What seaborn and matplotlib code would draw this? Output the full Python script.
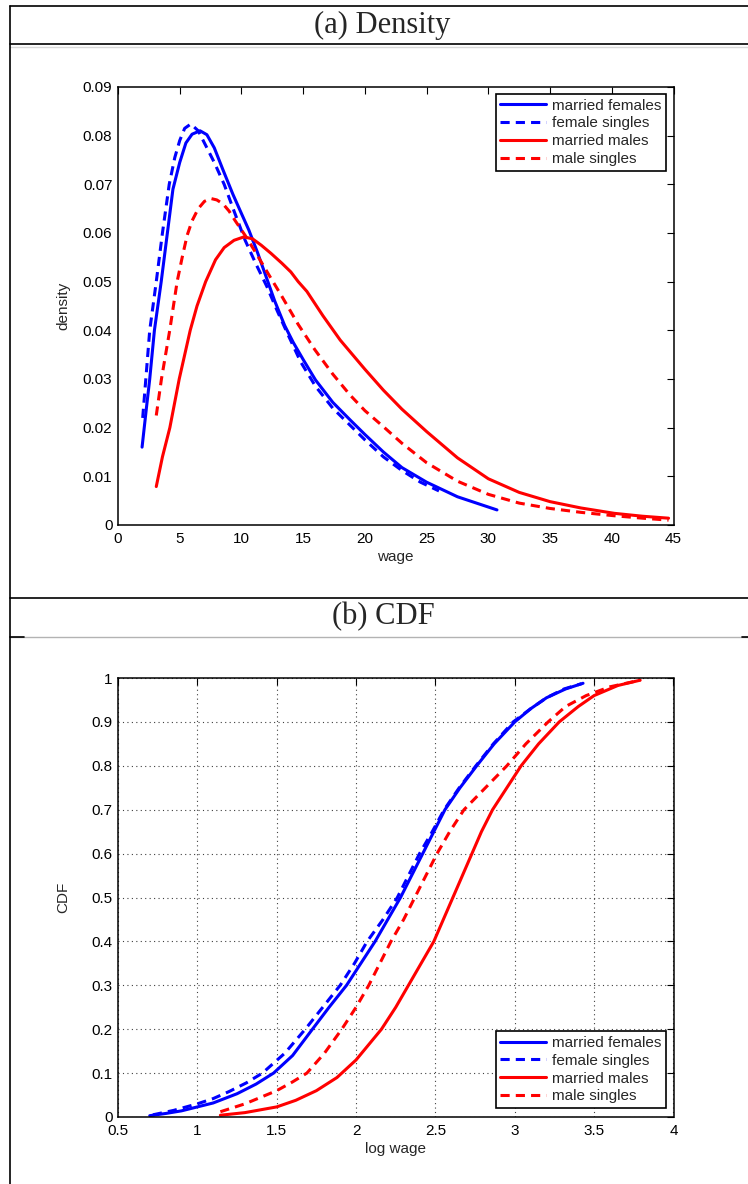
import pandas as pd
import seaborn as sns
from matplotlib import pyplot as plt
from matplotlib.lines import Line2D

sns.set_style('white')
plt.rcParams['font.family'] = ['Liberation Sans', 'DejaVu Sans']

groups = ['married females', 'female singles', 'married males', 'male singles']
colors = {'married females': '#0000ff', 'female singles': '#0000ff',
          'married males': '#ff0000', 'male singles': '#ff0000'}
dash_spec = {'married females': '', 'female singles': (3, 2),
             'married males': '', 'male singles': (3, 2)}

# (a) density of wages
mf_wage = [1.95, 2.3, 2.57, 2.95, 3.5, 4.0, 4.45, 5.0, 5.5, 6.0, 6.65, 7.2, 7.8, 8.5, 9.3,
           10.0, 10.6, 11.3, 12.0, 12.7, 13.5, 14.2, 15.0, 16.0, 17.4, 18.8, 20.0, 21.5,
           23.0, 25.0, 27.5, 30.7]
mf_dens = [0.016, 0.024, 0.030, 0.040, 0.050, 0.060, 0.069, 0.0745, 0.0785, 0.0803, 0.081,
           0.0802, 0.0775, 0.073, 0.068, 0.064, 0.0606, 0.056, 0.051, 0.046, 0.041, 0.0375,
           0.034, 0.0298, 0.0252, 0.0216, 0.0186, 0.015, 0.0118, 0.0088, 0.0058, 0.0031]
fs_wage = [2.0, 2.57, 3.1, 3.6, 4.15, 4.6, 5.0, 5.4, 5.9, 6.5, 7.1, 7.8, 8.6, 9.4, 10.3,
           11.2, 12.06, 12.9, 13.7, 14.8, 16.0, 17.4, 18.8, 20.0, 21.5, 23.0, 24.5, 26.0]
fs_dens = [0.022, 0.040, 0.050, 0.060, 0.070, 0.0755, 0.079, 0.0815, 0.0824, 0.081, 0.078,
           0.0745, 0.070, 0.0645, 0.0585, 0.0535, 0.049, 0.044, 0.0395, 0.0335, 0.0285,
           0.024, 0.0205, 0.0175, 0.014, 0.0112, 0.0088, 0.007]
mm_wage = [3.1, 3.6, 4.2, 4.96, 5.85, 6.4, 7.1, 7.9, 8.6, 9.4, 10.2, 10.9, 11.6, 12.4,
           13.27, 14.0, 14.6, 15.3, 15.95, 16.6, 17.3, 18.0, 18.8, 20.0, 21.5, 23.0, 25.0,
           27.5, 30.0, 32.5, 35.0, 37.5, 40.2, 42.5, 44.6]
mm_dens = [0.0079, 0.014, 0.020, 0.030, 0.040, 0.045, 0.050, 0.0545, 0.057, 0.0585, 0.0592,
           0.0588, 0.0575, 0.0558, 0.0538, 0.052, 0.050, 0.048, 0.0455, 0.043, 0.0405,
           0.038, 0.0356, 0.032, 0.0277, 0.0238, 0.0192, 0.0138, 0.0095, 0.0067, 0.0048,
           0.0035, 0.0024, 0.0018, 0.0014]
ms_wage = [3.1, 3.52, 4.19, 4.79, 5.2, 5.6, 6.0, 6.5, 7.0, 7.5, 8.0, 8.5, 9.0, 9.5, 10.3,
           11.1, 12.2, 13.27, 14.6, 15.95, 17.4, 18.8, 20.0, 21.5, 23.0, 25.0, 27.5, 30.0,
           32.5, 35.0, 37.5, 40.2, 42.5, 44.6]
ms_dens = [0.0225, 0.030, 0.040, 0.050, 0.055, 0.0595, 0.0625, 0.065, 0.0665, 0.0671,
           0.0668, 0.066, 0.0645, 0.0625, 0.0595, 0.0562, 0.0515, 0.047, 0.0412, 0.036,
           0.031, 0.0267, 0.0235, 0.0202, 0.0168, 0.0128, 0.009, 0.0063, 0.0045, 0.0034,
           0.0026, 0.0019, 0.0014, 0.001]

# (b) CDF of log wages
mf_logw = [0.70, 0.8, 0.9, 1.0, 1.1, 1.25, 1.37, 1.48, 1.6, 1.725, 1.83, 1.94, 2.03, 2.12,
           2.2, 2.28, 2.35, 2.42, 2.49, 2.56, 2.655, 2.76, 2.87, 3.0, 3.1, 3.2, 3.32, 3.43]
mf_cdf = [0.003, 0.008, 0.014, 0.023, 0.032, 0.053, 0.075, 0.10, 0.14, 0.20, 0.25, 0.30,
          0.35, 0.40, 0.45, 0.50, 0.55, 0.60, 0.65, 0.70, 0.75, 0.80, 0.85, 0.90, 0.93,
          0.955, 0.975, 0.988]
fs_logw = [0.72, 0.85, 1.0, 1.1, 1.2, 1.31, 1.41, 1.55, 1.68, 1.79, 1.90, 1.99, 2.07, 2.17,
           2.26, 2.33, 2.40, 2.48, 2.555, 2.65, 2.755, 2.865, 2.99, 3.1, 3.2, 3.31, 3.42]
fs_cdf = [0.005, 0.015, 0.03, 0.042, 0.058, 0.078, 0.10, 0.145, 0.20, 0.25, 0.30, 0.35,
          0.40, 0.45, 0.50, 0.55, 0.60, 0.65, 0.70, 0.75, 0.80, 0.85, 0.90, 0.93, 0.955,
          0.975, 0.987]
mm_logw = [1.145, 1.3, 1.5, 1.62, 1.75, 1.88, 2.0, 2.08, 2.16, 2.25, 2.33, 2.41, 2.49, 2.55,
           2.61, 2.67, 2.73, 2.79, 2.86, 2.95, 3.04, 3.15, 3.28, 3.4, 3.5, 3.65, 3.79]
mm_cdf = [0.004, 0.01, 0.023, 0.038, 0.06, 0.09, 0.13, 0.165, 0.20, 0.25, 0.30, 0.35, 0.40,
          0.45, 0.50, 0.55, 0.60, 0.65, 0.70, 0.75, 0.80, 0.85, 0.90, 0.935, 0.96, 0.983,
          0.995]
ms_logw = [1.145, 1.3, 1.5, 1.6, 1.69, 1.8, 1.91, 2.0, 2.08, 2.15, 2.22, 2.30, 2.37, 2.44,
           2.51, 2.59, 2.68, 2.815, 2.95, 3.07, 3.21, 3.32, 3.45, 3.6, 3.79]
ms_cdf = [0.012, 0.03, 0.06, 0.08, 0.10, 0.145, 0.20, 0.25, 0.30, 0.35, 0.40, 0.45, 0.50,
          0.55, 0.60, 0.65, 0.70, 0.75, 0.80, 0.85, 0.90, 0.935, 0.96, 0.98, 0.995]

dens_xticks = [0, 5, 10, 15, 20, 25, 30, 35, 40, 45]
dens_yticks = [0, 0.01, 0.02, 0.03, 0.04, 0.05, 0.06, 0.07, 0.08, 0.09]
dens_ylabels = ['0', '0.01', '0.02', '0.03', '0.04', '0.05', '0.06', '0.07', '0.08', '0.09']
cdf_xticks = [0.5, 1, 1.5, 2, 2.5, 3, 3.5, 4]
cdf_xlabels = ['0.5', '1', '1.5', '2', '2.5', '3', '3.5', '4']
cdf_yticks = [0, 0.1, 0.2, 0.3, 0.4, 0.5, 0.6, 0.7, 0.8, 0.9, 1]
cdf_ylabels = ['0', '0.1', '0.2', '0.3', '0.4', '0.5', '0.6', '0.7', '0.8', '0.9', '1']


def _long(xs, ys, xname, yname):
    parts = []
    for g, x, y in zip(groups, xs, ys):
        parts.append(pd.DataFrame({xname: x, yname: y, 'group': g}))
    return pd.concat(parts, ignore_index=True)


def _style_ax(ax):
    ax.tick_params(direction='in', top=True, right=True, length=5, width=0.8,
                   labelsize=11, colors='black', pad=5)
    ax.tick_params(axis='y', pad=4)
    for sp in ax.spines.values():
        sp.set_visible(True)
        sp.set_color('black')
        sp.set_linewidth(1.1)


def _legend(ax, loc, anchor):
    handles = []
    for g in groups:
        h = Line2D([], [], color=colors[g], lw=2.2)
        if dash_spec[g]:
            h.set_dashes(dash_spec[g])
        handles.append(h)
    leg = ax.legend(handles, groups, loc=loc, bbox_to_anchor=anchor,
                    borderaxespad=0, fontsize=11, frameon=True, fancybox=False,
                    edgecolor='black', framealpha=1, handlelength=3.0,
                    handletextpad=0.35, labelspacing=0.25, borderpad=0.3)
    leg.get_frame().set_linewidth(1.2)


dens_df = _long([mf_wage, fs_wage, mm_wage, ms_wage],
                [mf_dens, fs_dens, mm_dens, ms_dens], 'wage', 'density')
cdf_df = _long([mf_logw, fs_logw, mm_logw, ms_logw],
               [mf_cdf, fs_cdf, mm_cdf, ms_cdf], 'log wage', 'CDF')

W, H = 748, 1184
fig = plt.figure(figsize=(W / 100, H / 100), dpi=100)

ax1 = fig.add_axes([118 / W, 1 - 525 / H, 555.5 / W, 438 / H])
sns.lineplot(data=dens_df, x='wage', y='density', hue='group', style='group',
             hue_order=groups, style_order=groups, palette=colors, dashes=dash_spec,
             estimator=None, sort=False, lw=2.2, legend=False, ax=ax1)
ax1.set_xlim(0, 45)
ax1.set_ylim(0, 0.09)
ax1.set_xticks(dens_xticks)
ax1.set_xticklabels([str(t) for t in dens_xticks])
ax1.set_yticks(dens_yticks)
ax1.set_yticklabels(dens_ylabels)
ax1.set_xlabel('wage', fontsize=11)
ax1.set_ylabel('density', fontsize=11)
ax1.xaxis.set_label_coords(0.5, -0.058)
ax1.yaxis.set_label_coords(-0.086, 0.5)
_style_ax(ax1)
_legend(ax1, 'upper right', (1 - 8 / 555.5, 1 - 7 / 438))

ax2 = fig.add_axes([118 / W, 1 - 1117 / H, 555.5 / W, 439 / H])
sns.lineplot(data=cdf_df, x='log wage', y='CDF', hue='group', style='group',
             hue_order=groups, style_order=groups, palette=colors, dashes=dash_spec,
             estimator=None, sort=False, lw=2.2, legend=False, ax=ax2)
ax2.set_xlim(0.5, 4)
ax2.set_ylim(0, 1)
ax2.set_xticks(cdf_xticks)
ax2.set_xticklabels(cdf_xlabels)
ax2.set_yticks(cdf_yticks)
ax2.set_yticklabels(cdf_ylabels)
ax2.set_xlabel('log wage', fontsize=11)
ax2.set_ylabel('CDF', fontsize=11)
ax2.xaxis.set_label_coords(0.5, -0.057)
ax2.yaxis.set_label_coords(-0.086, 0.5)
ax2.grid(True, linestyle=(0, (1, 3)), color='0.25', linewidth=0.8)
ax2.set_axisbelow(True)
_style_ax(ax2)
_legend(ax2, 'lower right', (1 - 8 / 555.5, 9 / 439))


# table-like frame around the two panels
def _hline(y, x0=9.5, x1=W, color='black', lw=1.2):
    fig.add_artist(Line2D([x0 / W, x1 / W], [1 - y / H, 1 - y / H],
                          transform=fig.transFigure, color=color, lw=lw))


_hline(6)
_hline(44.3)
_hline(46.8, color='0.85', lw=1.0)
_hline(597.7)
_hline(636.7, color='0.7', lw=1.0)
_hline(636.7, x1=24)
_hline(636.7, x0=742)
fig.add_artist(Line2D([9.5 / W, 9.5 / W], [0, 1 - 6 / H], transform=fig.transFigure,
                      color='black', lw=1.2))

fig.text(382 / W, 1 - 25 / H, '(a) Density', ha='center', va='center',
         fontsize=22, family=['Liberation Serif', 'DejaVu Serif'])
fig.text(383 / W, 1 - 617 / H, '(b) CDF', ha='center', va='center',
         fontsize=22, family=['Liberation Serif', 'DejaVu Serif'])

fig.savefig('out.png', dpi=100)
